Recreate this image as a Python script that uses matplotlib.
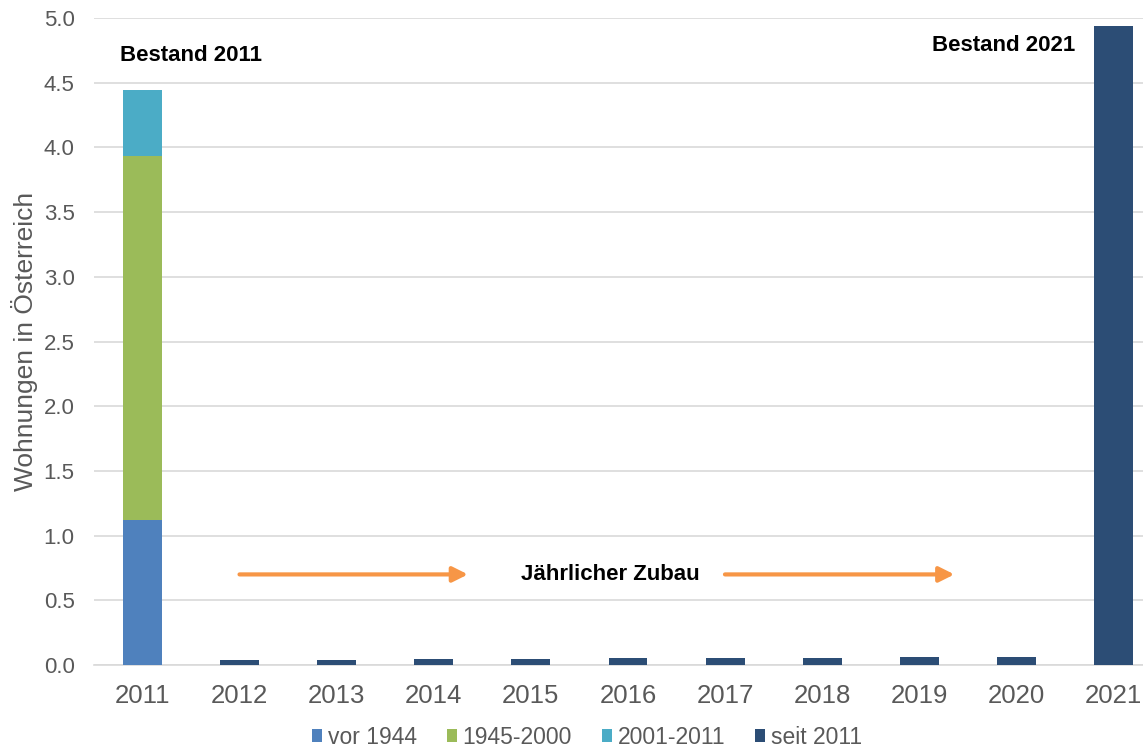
import numpy as np
import matplotlib
matplotlib.use("Agg")
import matplotlib.pyplot as plt

plt.rcParams['font.family'] = ['Liberation Sans', 'DejaVu Sans']

years = ['2011', '2012', '2013', '2014', '2015', '2016', '2017', '2018', '2019', '2020', '2021']
vor_1944 = [1.12, 0, 0, 0, 0, 0, 0, 0, 0, 0, 0]
b1945_2000 = [2.81, 0, 0, 0, 0, 0, 0, 0, 0, 0, 0]
b2001_2011 = [0.51, 0, 0, 0, 0, 0, 0, 0, 0, 0, 0]
seit_2011 = [0, 0.040, 0.040, 0.046, 0.046, 0.051, 0.051, 0.051, 0.058, 0.058, 4.94]

series = [
    ('vor 1944', vor_1944, '#4F81BD'),
    ('1945-2000', b1945_2000, '#9BBB59'),
    ('2001-2011', b2001_2011, '#4BACC6'),
    ('seit 2011', seit_2011, '#2C4D75'),
]

fig = plt.figure(figsize=(11.43, 7.49), dpi=100)
# axes runs a bit past the right edge, like the reference
ax = fig.add_axes([94 / 1143, 84 / 749, 1068 / 1143, 647 / 749])

x = np.arange(len(years))
bottom = np.zeros(len(years))
for name, vals, col in series:
    vals = np.array(vals)
    ax.bar(x, vals, 0.4, bottom=bottom, color=col, label=name, zorder=3)
    bottom += vals

ax.set_xlim(-0.5, 10.5)
ax.set_ylim(0, 5.0)
ax.set_yticks(np.arange(0, 5.01, 0.5))
ax.set_yticklabels([f'{v:.1f}' for v in np.arange(0, 5.01, 0.5)])
ax.set_xticks(x)
ax.set_xticklabels(years)
ax.yaxis.grid(True, color='#D9D9D9', lw=1.2, zorder=0)
ax.set_axisbelow(True)
for s in ['left', 'right', 'top']:
    ax.spines[s].set_visible(False)
ax.spines['bottom'].set_color('#D9D9D9')
ax.spines['bottom'].set_linewidth(1.2)
ax.tick_params(axis='both', length=0, colors='#595959')
ax.tick_params(axis='y', pad=14, labelsize=16)
ax.tick_params(axis='x', pad=14, labelsize=18.5)
ax.set_ylabel('Wohnungen in Österreich', fontsize=19, color='#595959')
ax.yaxis.set_label_coords(-0.052, 0.5)

ax.text(0.5, 4.71, 'Bestand 2011', ha='center', va='center', fontsize=16, fontweight='bold')
ax.text(8.87, 4.79, 'Bestand 2021', ha='center', va='center', fontsize=16, fontweight='bold')
ax.text(4.82, 0.70, 'Jährlicher Zubau', ha='center', va='center', fontsize=16, fontweight='bold')

arrow = dict(arrowstyle='-|>,head_length=0.9,head_width=0.45', color='#F79646', lw=3)
ax.annotate('', xy=(3.38, 0.70), xytext=(0.97, 0.70), arrowprops=arrow)
ax.annotate('', xy=(8.39, 0.70), xytext=(5.97, 0.70), arrowprops=arrow)

fig.legend(loc='lower center', bbox_to_anchor=(587 / 1143, -0.027), ncol=4, frameon=False,
           fontsize=16.5, handlelength=0.45, handleheight=0.45, handletextpad=0.25,
           columnspacing=1.3, labelcolor='#595959')

fig.savefig('out.png', dpi=100)
